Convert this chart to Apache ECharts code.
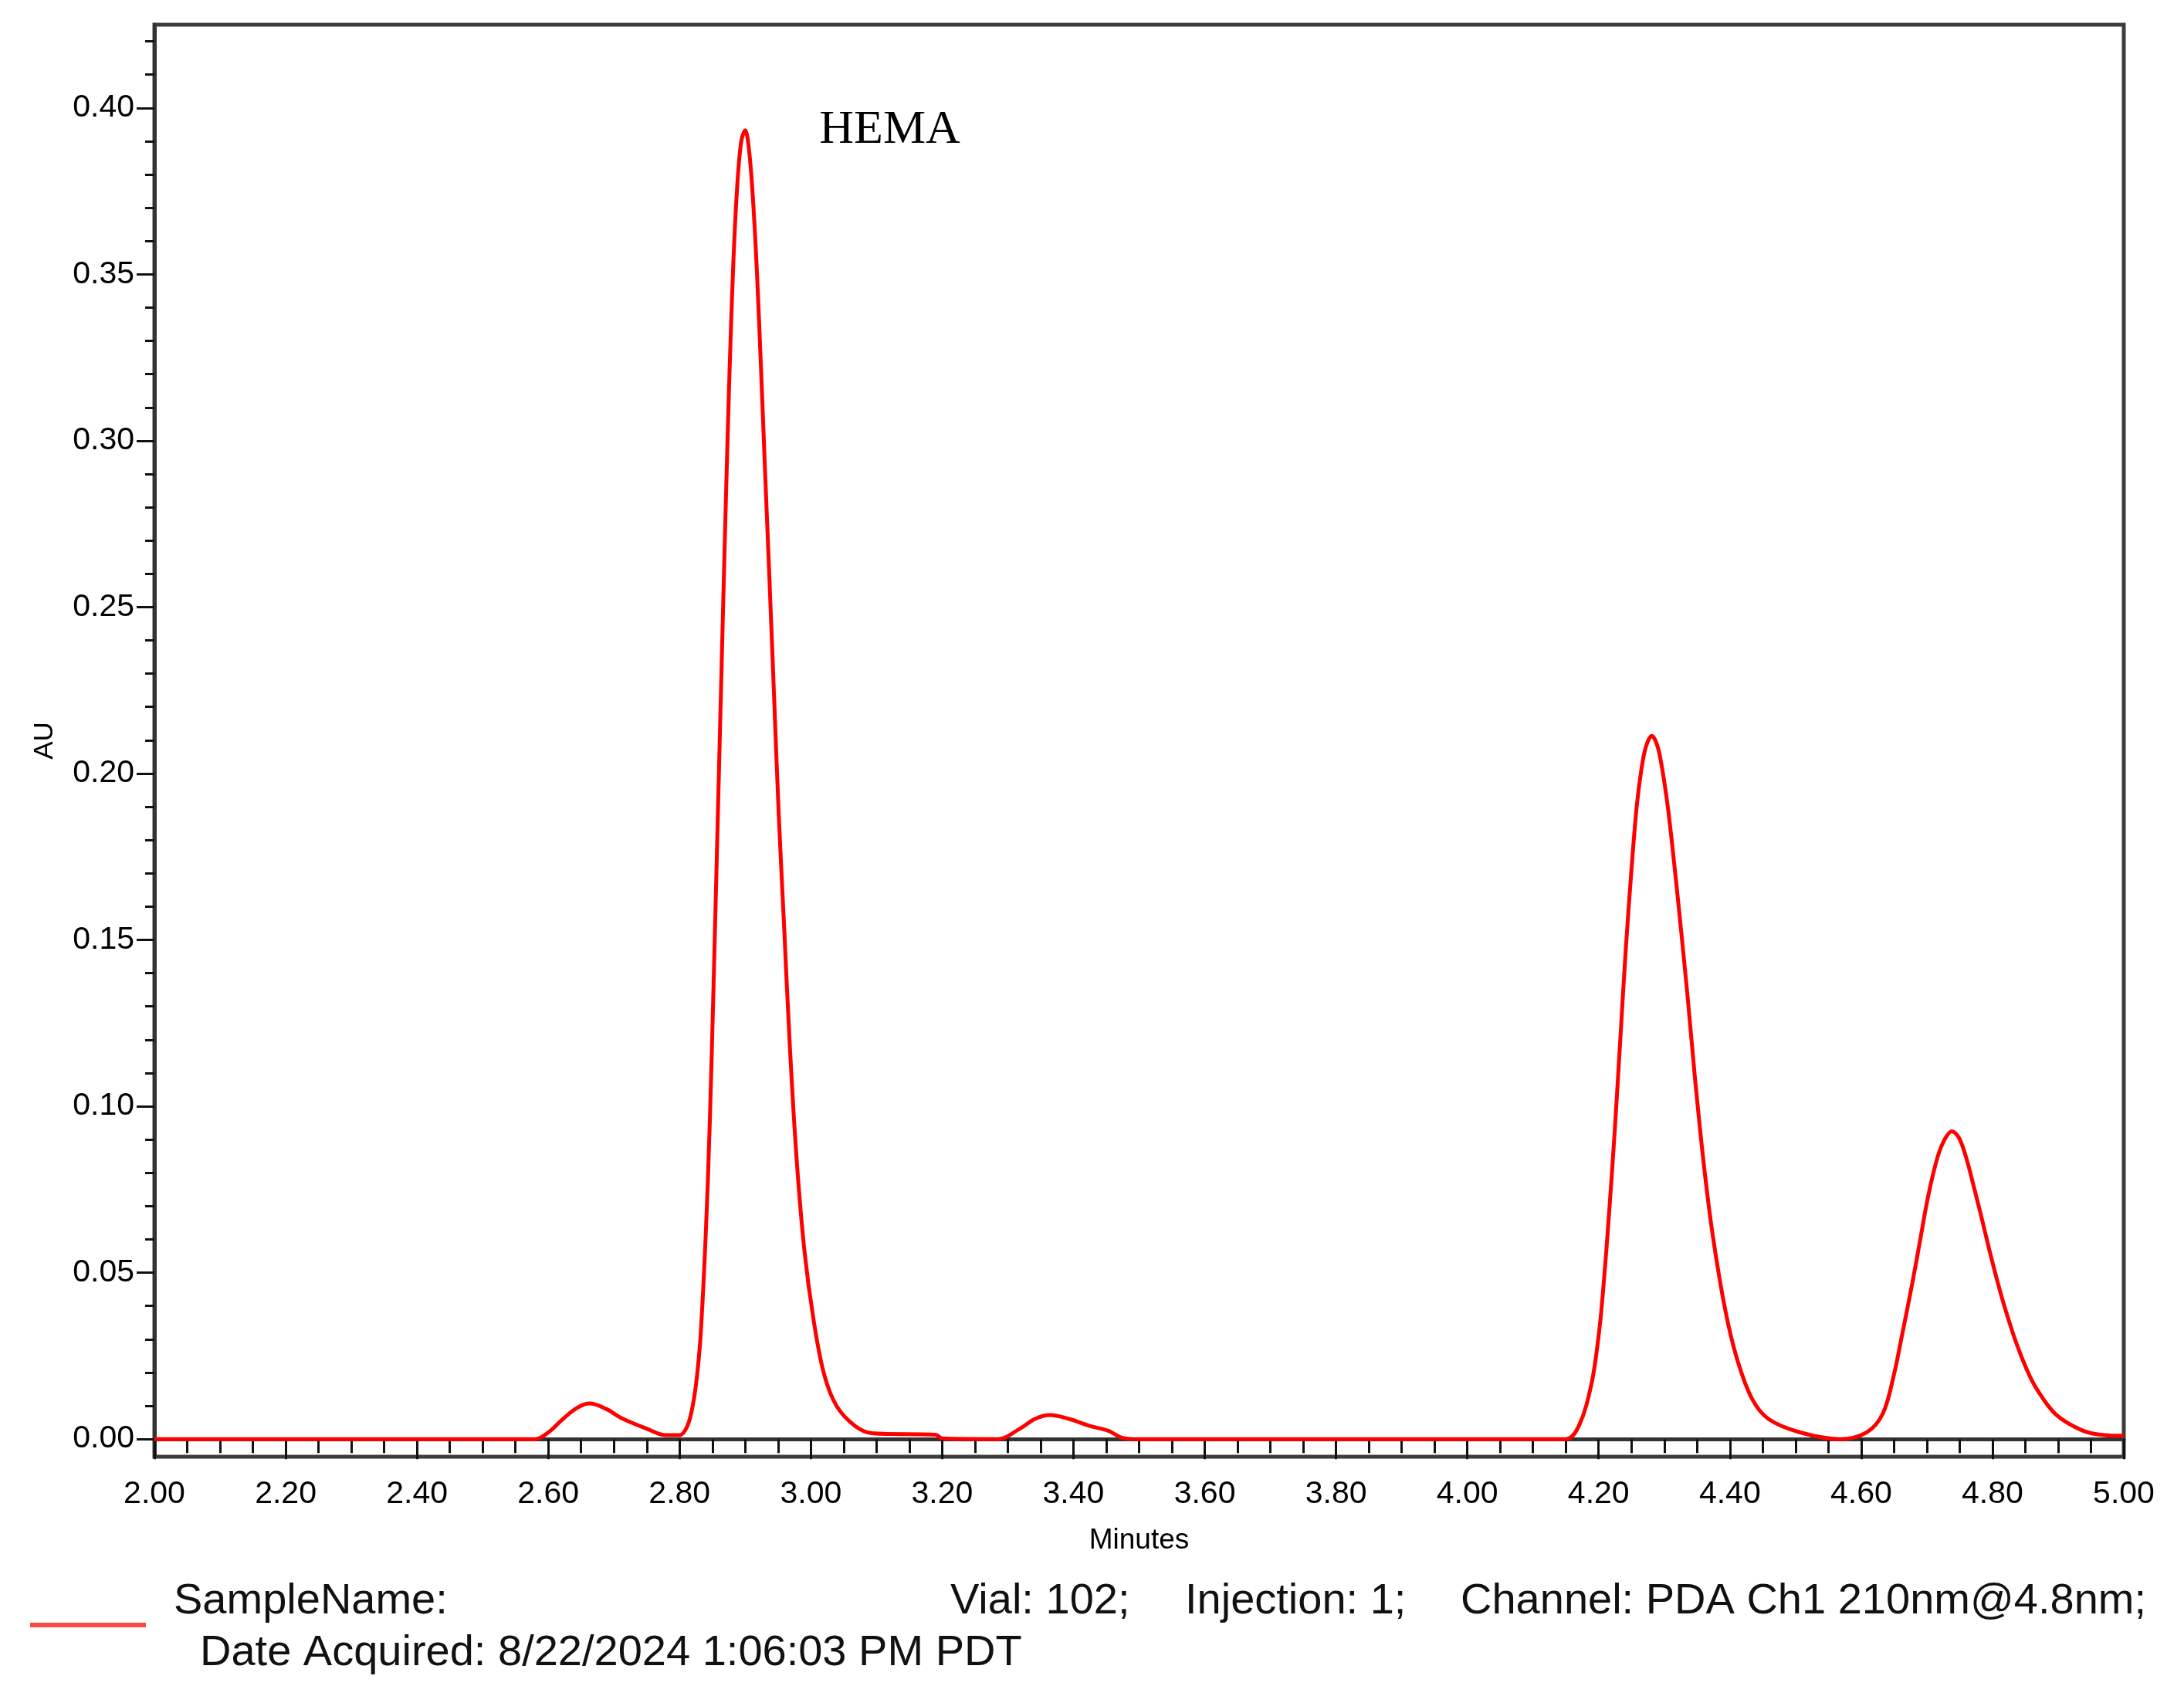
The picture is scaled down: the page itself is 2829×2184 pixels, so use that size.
<!DOCTYPE html>
<html><head><meta charset="utf-8">
<script src="https://cdn.jsdelivr.net/npm/echarts@6/dist/echarts.min.js"></script>
<style>html,body{margin:0;padding:0;background:#fff}#c{width:2829px;height:2184px}</style>
</head><body><div id="c"></div>
<script>
// Retention time (minutes) and absorbance (AU)
const minutes = [
  2.00, 2.58, 2.60, 2.622, 2.644, 2.663, 2.689, 2.707, 2.719, 2.749, 2.779, 2.800,
  2.812, 2.820, 2.826, 2.832, 2.840, 2.846, 2.852, 2.858, 2.864, 2.870, 2.876, 2.882,
  2.888, 2.894, 2.900, 2.906, 2.912, 2.918, 2.924, 2.930, 2.937, 2.944, 2.951, 2.959,
  2.968, 2.978, 2.990, 3.004, 3.020, 3.039, 3.067, 3.095, 3.190, 3.200, 3.285, 3.319,
  3.341, 3.364, 3.394, 3.424, 3.453, 3.476, 3.500,
  4.150, 4.170, 4.189, 4.200, 4.207, 4.216, 4.225, 4.233, 4.241, 4.250, 4.258, 4.265,
  4.272, 4.281, 4.290, 4.298, 4.306, 4.314, 4.322, 4.336, 4.347, 4.360, 4.374, 4.393,
  4.411, 4.434, 4.459, 4.507, 4.567, 4.608, 4.633, 4.650, 4.662, 4.678, 4.690, 4.702,
  4.716, 4.727, 4.738, 4.749, 4.760, 4.772, 4.784, 4.795, 4.806, 4.818, 4.836, 4.852,
  4.866, 4.896, 4.938, 4.970, 5.000
];
const au = [
  0, 0, 0.002, 0.006, 0.0094, 0.0107, 0.009, 0.0068, 0.0056, 0.0032, 0.0012, 0.0012,
  0.004, 0.010, 0.018, 0.031, 0.062, 0.095, 0.138, 0.185, 0.232, 0.278, 0.320, 0.354,
  0.377, 0.390, 0.3933, 0.387, 0.372, 0.350, 0.322, 0.292, 0.258, 0.223, 0.188, 0.155,
  0.118, 0.085, 0.057, 0.036, 0.0196, 0.010, 0.004, 0.0017, 0.0013, 0.0002, 0, 0.0032,
  0.006, 0.0072, 0.006, 0.004, 0.0025, 0.0003, 0,
  0, 0.004, 0.0165, 0.031, 0.045, 0.068, 0.094, 0.120, 0.146, 0.171, 0.190, 0.201,
  0.208, 0.2113, 0.208, 0.200, 0.189, 0.175, 0.160, 0.132, 0.108, 0.083, 0.061, 0.0387,
  0.024, 0.012, 0.006, 0.002, 0, 0.002, 0.0077, 0.0195, 0.031, 0.047, 0.060, 0.073,
  0.0845, 0.090, 0.0925, 0.0905, 0.0845, 0.0755, 0.066, 0.057, 0.0485, 0.040, 0.029, 0.021,
  0.0155, 0.0075, 0.0025, 0.0012, 0.001
];
const yMajorTicks = [0.00, 0.05, 0.10, 0.15, 0.20, 0.25, 0.30, 0.35, 0.40];
const yMinorTicks = [0.01, 0.02, 0.03, 0.04, 0.06, 0.07, 0.08, 0.09, 0.11, 0.12, 0.13, 0.14,
  0.16, 0.17, 0.18, 0.19, 0.21, 0.22, 0.23, 0.24, 0.26, 0.27, 0.28, 0.29, 0.31, 0.32, 0.33,
  0.34, 0.36, 0.37, 0.38, 0.39, 0.41, 0.42];
const xRange = [2.00, 5.00];
const xMajorStep = 0.2;
const yRange = [-0.0053, 0.425];
const peakName = 'HEMA';
const footerLine1 = ['SampleName:', 'Vial: 102;', 'Injection: 1;', 'Channel: PDA Ch1 210nm@4.8nm;'];
const footerLine2 = 'Date Acquired: 8/22/2024 1:06:03 PM PDT';

const data = minutes.map((t, i) => [t, au[i]]);
let peakIdx = 0;
au.forEach((v, i) => { if (v > au[peakIdx]) peakIdx = i; });

const tickFont = 'Liberation Sans, Arial, sans-serif';
const chart = echarts.init(document.getElementById('c'), null, {renderer: 'canvas'});
const footerStyle = {font: '56px "Liberation Sans", Arial, sans-serif', fill: '#111', align: 'left', verticalAlign: 'middle'};
chart.setOption({
  animation: false,
  backgroundColor: '#fff',
  grid: {left: 200, right: 78, top: 32, bottom: 297, show: true, borderColor: '#3c3c3c', borderWidth: 5},
  legend: {
    show: true, left: 34, top: 2097, icon: 'rect', itemWidth: 150, itemHeight: 6,
    data: [{name: 'PDA Ch1 210nm', itemStyle: {color: '#ff4545'}}],
    formatter: () => '', textStyle: {fontSize: 1}, selectedMode: false
  },
  xAxis: {
    type: 'value', min: xRange[0], max: xRange[1], interval: xMajorStep,
    axisLine: {show: true, lineStyle: {color: '#333', width: 5}},
    axisTick: {show: true, inside: false, length: 26, lineStyle: {color: '#111', width: 3}},
    minorTick: {show: true, splitNumber: 4, length: 18, lineStyle: {color: '#111', width: 3}},
    axisLabel: {formatter: v => v.toFixed(2), fontFamily: tickFont, fontSize: 41, color: '#000', margin: 28},
    splitLine: {show: false},
    name: 'Minutes', nameLocation: 'middle', nameGap: 90,
    nameTextStyle: {fontFamily: tickFont, fontSize: 37, color: '#000'}
  },
  yAxis: [{
    type: 'value', min: yRange[0], max: yRange[1], position: 'left',
    axisLine: {show: true, lineStyle: {color: '#333', width: 5}},
    axisTick: {show: true, length: 23, customValues: yMajorTicks, lineStyle: {color: '#111', width: 3}},
    axisLabel: {customValues: yMajorTicks, formatter: v => v.toFixed(2), fontFamily: tickFont, fontSize: 41, color: '#000', margin: 26},
    splitLine: {show: false},
    name: 'AU', nameLocation: 'middle', nameGap: 124,
    nameTextStyle: {fontFamily: tickFont, fontSize: 35, color: '#000'}
  }, {
    type: 'value', min: yRange[0], max: yRange[1], position: 'left', offset: 0,
    axisLine: {show: false},
    axisTick: {show: true, length: 12, customValues: yMinorTicks, lineStyle: {color: '#111', width: 3}},
    axisLabel: {show: false},
    splitLine: {show: false}
  }],
  series: [{
    name: 'PDA Ch1 210nm', type: 'line', data: data, yAxisIndex: 0,
    showSymbol: false, smooth: 0.35,
    lineStyle: {color: '#ff0000', width: 5},
    itemStyle: {color: '#ff0000'},
    markPoint: {
      symbol: 'circle', symbolSize: 0, silent: true,
      data: [{coord: [minutes[peakIdx], au[peakIdx]], name: peakName}],
      label: {show: true, formatter: peakName, position: 'right', distance: 96,
        fontFamily: 'Liberation Serif, Times New Roman, serif', fontSize: 62, color: '#000'}
    }
  }],
  graphic: [
    {type: 'text', x: 225, y: 2075, style: Object.assign({text: footerLine1[0]}, footerStyle)},
    {type: 'text', x: 1231, y: 2075, style: Object.assign({text: footerLine1[1]}, footerStyle)},
    {type: 'text', x: 1535, y: 2075, style: Object.assign({text: footerLine1[2]}, footerStyle)},
    {type: 'text', x: 1892, y: 2075, style: Object.assign({text: footerLine1[3]}, footerStyle)},
    {type: 'text', x: 259, y: 2142, style: Object.assign({text: footerLine2}, footerStyle)}
  ]
});
</script></body></html>
